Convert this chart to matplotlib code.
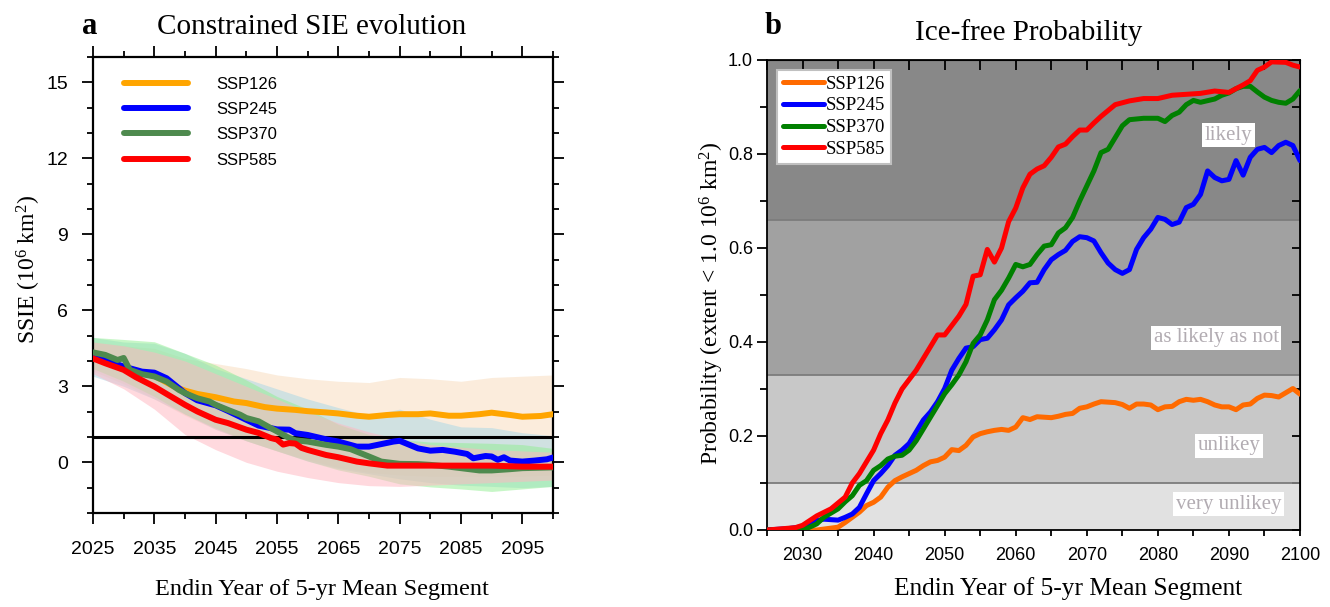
import matplotlib
matplotlib.use("Agg")
import matplotlib.pyplot as plt
from matplotlib.ticker import MultipleLocator, FixedLocator

plt.rcParams['mathtext.fontset'] = 'custom'
plt.rcParams['mathtext.rm'] = 'Liberation Serif'
plt.rcParams['mathtext.it'] = 'Liberation Serif:italic'

SERIF = 'Liberation Serif'
SANS = 'Liberation Sans'

scenarios = ['SSP126', 'SSP245', 'SSP370', 'SSP585']

# ---------------- Panel a data: constrained SIE (10^6 km^2) ----------------
a_years_126 = [2025, 2027, 2030, 2033, 2035, 2038, 2040, 2042, 2045, 2048, 2050, 2053, 2055, 2058, 2060,
               2063, 2065, 2068, 2070, 2073, 2075, 2078, 2080, 2083, 2085, 2088, 2090, 2093, 2095, 2098, 2100]
a_vals_126 = [4.15, 3.95, 3.75, 3.55, 3.42, 3.02, 2.83, 2.70, 2.57, 2.40, 2.34, 2.18, 2.12, 2.07, 2.02,
              1.97, 1.93, 1.84, 1.80, 1.87, 1.90, 1.90, 1.93, 1.84, 1.84, 1.90, 1.96, 1.87, 1.80, 1.83, 1.90]

a_years_245 = [2025, 2028, 2030, 2033, 2035, 2037, 2040, 2042, 2045, 2047, 2050, 2052, 2054, 2055, 2057, 2058,
               2060, 2063, 2065, 2068, 2070, 2072, 2074, 2075, 2076, 2078, 2080, 2082, 2084, 2086, 2087,
               2089, 2090, 2091, 2092, 2093, 2095, 2097, 2099, 2100]
a_vals_245 = [4.17, 3.95, 3.78, 3.58, 3.54, 3.32, 2.73, 2.45, 2.25, 2.03, 1.68, 1.45, 1.35, 1.30, 1.29, 1.15,
              1.08, 0.91, 0.82, 0.62, 0.62, 0.72, 0.82, 0.85, 0.75, 0.55, 0.46, 0.49, 0.42, 0.33, 0.16,
              0.25, 0.23, 0.10, 0.20, 0.07, 0.03, 0.07, 0.12, 0.19]

a_years_370 = [2025, 2027, 2029, 2030, 2031, 2033, 2035, 2037, 2039, 2040, 2042, 2044, 2045, 2047, 2049, 2050,
               2052, 2054, 2055, 2056, 2057, 2058, 2060, 2063, 2065, 2067, 2070, 2072, 2075, 2078, 2080,
               2083, 2085, 2088, 2090, 2093, 2095, 2100]
a_vals_370 = [4.34, 4.24, 4.04, 4.12, 3.65, 3.48, 3.39, 3.19, 2.86, 2.73, 2.53, 2.40, 2.27, 2.07, 1.88, 1.75,
              1.62, 1.35, 1.22, 1.09, 0.96, 0.87, 0.82, 0.69, 0.62, 0.52, 0.23, 0.03, -0.06, -0.07, -0.10,
              -0.17, -0.23, -0.32, -0.32, -0.27, -0.23, -0.20]

a_years_585 = [2025, 2027, 2030, 2032, 2035, 2037, 2040, 2042, 2045, 2047, 2050, 2052, 2054, 2055, 2056, 2057,
               2058, 2059, 2060, 2063, 2065, 2068, 2070, 2073, 2075, 2080, 2085, 2090, 2095, 2100]
a_vals_585 = [4.10, 3.91, 3.65, 3.36, 2.99, 2.70, 2.27, 2.01, 1.68, 1.55, 1.29, 1.16, 0.96, 0.90, 0.70, 0.76,
              0.74, 0.57, 0.49, 0.29, 0.20, 0.03, -0.04, -0.13, -0.13, -0.13, -0.13, -0.13, -0.17, -0.17]

# uncertainty envelopes (every 5 years)
band_years = [2025, 2030, 2035, 2040, 2045, 2050, 2055, 2060, 2065, 2070, 2075, 2080, 2085, 2090, 2095, 2100]
band_hi_126 = [4.75, 4.6, 4.5, 4.1, 3.9, 3.7, 3.45, 3.3, 3.2, 3.15, 3.35, 3.3, 3.2, 3.35, 3.4, 3.45]
band_lo_126 = [3.6, 3.1, 2.5, 1.85, 1.3, 0.85, 0.45, 0.1, -0.2, -0.4, -0.5, -0.55, -0.55, -0.55, -0.55, -0.5]
band_hi_245 = [4.93, 4.75, 4.7, 4.3, 3.7, 3.3, 2.9, 2.5, 2.16, 1.85, 2.1, 1.7, 1.4, 1.37, 1.17, 1.05]
band_lo_245 = [3.4, 3.0, 2.5, 1.9, 1.3, 0.85, 0.45, 0.05, -0.25, -0.45, -0.65, -0.8, -0.9, -0.95, -1.0, -0.95]
band_hi_370 = [4.93, 4.85, 4.76, 4.3, 3.84, 3.25, 2.6, 2.1, 1.5, 1.1, 0.9, 0.8, 0.78, 0.75, 0.7, 0.55]
band_lo_370 = [3.7, 3.2, 2.6, 1.9, 1.35, 0.85, 0.45, 0.05, -0.3, -0.55, -0.85, -0.97, -1.05, -1.15, -1.05, -0.95]
band_hi_585 = [4.75, 4.6, 4.35, 4.0, 3.5, 3.0, 2.5, 2.0, 1.55, 1.2, 0.9, 0.7, 0.6, 0.5, 0.45, 0.4]
band_lo_585 = [3.5, 2.9, 2.1, 1.1, 0.5, 0.0, -0.35, -0.6, -0.8, -0.92, -0.95, -0.9, -0.85, -0.8, -0.75, -0.7]

ice_free_threshold = 1.0

# ---------------- Panel b data: ice-free probability ----------------
b_years_126 = [2025, 2032, 2033, 2035, 2036, 2037, 2038, 2039, 2040, 2041, 2042, 2043, 2044, 2045, 2046, 2047,
               2048, 2049, 2050, 2051, 2052, 2053, 2054, 2055, 2056, 2057, 2058, 2059, 2060, 2061, 2062,
               2063, 2065, 2066, 2067, 2068, 2069, 2070, 2071, 2072, 2074, 2075, 2076, 2077, 2078, 2079,
               2080, 2081, 2082, 2083, 2084, 2085, 2086, 2087, 2088, 2089, 2090, 2091, 2092, 2093, 2094,
               2095, 2096, 2097, 2098, 2099, 2100]
b_vals_126 = [0.0, 0.0, 0.002, 0.006, 0.016, 0.027, 0.038, 0.052, 0.059, 0.07, 0.091, 0.105, 0.113, 0.12, 0.127,
              0.137, 0.145, 0.148, 0.155, 0.171, 0.169, 0.18, 0.198, 0.205, 0.209, 0.212, 0.214, 0.212, 0.219,
              0.239, 0.235, 0.241, 0.239, 0.242, 0.246, 0.248, 0.259, 0.262, 0.268, 0.273, 0.271, 0.267,
              0.259, 0.268, 0.268, 0.266, 0.256, 0.262, 0.263, 0.273, 0.278, 0.276, 0.278, 0.273, 0.266,
              0.262, 0.262, 0.256, 0.266, 0.268, 0.28, 0.287, 0.286, 0.283, 0.292, 0.301, 0.289]

b_years_245 = [2025, 2028, 2030, 2031, 2032, 2033, 2035, 2036, 2037, 2038, 2039, 2040, 2041, 2042, 2043, 2044,
               2045, 2046, 2047, 2048, 2049, 2050, 2051, 2052, 2053, 2054, 2055, 2056, 2057, 2058, 2059,
               2060, 2061, 2062, 2063, 2064, 2065, 2066, 2067, 2068, 2069, 2070, 2071, 2072, 2073, 2074,
               2075, 2076, 2077, 2078, 2079, 2080, 2081, 2082, 2083, 2084, 2085, 2086, 2087, 2088, 2089,
               2090, 2091, 2092, 2093, 2094, 2095, 2096, 2097, 2098, 2099, 2100]
b_vals_245 = [0.0, 0.003, 0.007, 0.013, 0.02, 0.023, 0.021, 0.027, 0.034, 0.048, 0.077, 0.105, 0.12, 0.137,
              0.159, 0.17, 0.184, 0.209, 0.234, 0.251, 0.273, 0.301, 0.34, 0.365, 0.387, 0.39, 0.405, 0.408,
              0.426, 0.447, 0.479, 0.494, 0.508, 0.526, 0.527, 0.554, 0.575, 0.586, 0.595, 0.614, 0.624,
              0.622, 0.615, 0.59, 0.568, 0.554, 0.546, 0.554, 0.597, 0.622, 0.64, 0.665, 0.661, 0.65, 0.655,
              0.686, 0.693, 0.714, 0.764, 0.75, 0.743, 0.746, 0.786, 0.755, 0.793, 0.81, 0.814, 0.803,
              0.818, 0.825, 0.818, 0.786]

b_years_370 = [2025, 2030, 2031, 2032, 2033, 2035, 2036, 2037, 2038, 2039, 2040, 2041, 2042, 2043, 2044, 2045,
               2046, 2047, 2048, 2049, 2050, 2051, 2052, 2053, 2054, 2055, 2056, 2057, 2058, 2059, 2060,
               2061, 2062, 2063, 2064, 2065, 2066, 2067, 2068, 2069, 2070, 2071, 2072, 2073, 2074, 2075,
               2076, 2078, 2080, 2081, 2082, 2083, 2084, 2085, 2086, 2088, 2089, 2090, 2091, 2092, 2093,
               2094, 2095, 2096, 2097, 2098, 2099, 2100]
b_vals_370 = [0.0, 0.0, 0.006, 0.013, 0.027, 0.045, 0.06, 0.073, 0.095, 0.105, 0.127, 0.137, 0.151, 0.157,
              0.159, 0.17, 0.19, 0.215, 0.24, 0.265, 0.29, 0.309, 0.33, 0.358, 0.397, 0.415, 0.447, 0.49,
              0.51, 0.536, 0.565, 0.56, 0.565, 0.586, 0.604, 0.607, 0.632, 0.643, 0.665, 0.70, 0.732, 0.764,
              0.803, 0.81, 0.835, 0.86, 0.873, 0.876, 0.876, 0.869, 0.882, 0.889, 0.905, 0.914, 0.91, 0.917,
              0.925, 0.93, 0.939, 0.944, 0.944, 0.932, 0.921, 0.914, 0.91, 0.908, 0.917, 0.935]

b_years_585 = [2025, 2029, 2030, 2032, 2034, 2036, 2037, 2038, 2040, 2041, 2042, 2043, 2044, 2046, 2048, 2049,
               2050, 2052, 2053, 2054, 2055, 2056, 2057, 2058, 2059, 2060, 2061, 2062, 2063, 2064, 2065,
               2066, 2067, 2068, 2069, 2070, 2071, 2072, 2074, 2076, 2078, 2080, 2082, 2084, 2086, 2088,
               2090, 2092, 2093, 2094, 2095, 2096, 2098, 2099, 2100]
b_vals_585 = [0.0, 0.005, 0.01, 0.03, 0.045, 0.07, 0.1, 0.12, 0.17, 0.205, 0.234, 0.27, 0.3, 0.34, 0.39, 0.415,
              0.415, 0.455, 0.48, 0.54, 0.543, 0.597, 0.57, 0.6, 0.656, 0.685, 0.728, 0.757, 0.768, 0.775,
              0.793, 0.815, 0.821, 0.837, 0.851, 0.851, 0.866, 0.88, 0.905, 0.913, 0.918, 0.918, 0.925,
              0.927, 0.929, 0.934, 0.931, 0.947, 0.956, 0.978, 0.985, 0.996, 0.995, 0.989, 0.985]

# likelihood categories (probability boundaries)
prob_bounds = [0.0, 0.1, 0.33, 0.66, 1.0]
prob_labels = ['very unlikey', 'unlikey', 'as likely as not', 'likely']

# ---------------- styles ----------------
a_line_colors = ['#ffa500', '#0000ff', '#4e8a4e', '#ff0000']
a_band_colors = ['#f2c38e', '#add8e6', '#90ee90', '#ffb6c1']
a_band_alpha = [0.30, 0.55, 0.50, 0.52]
b_line_colors = ['#ff6a00', '#0000ff', '#008000', '#ff0000']
band_fill = ['#e1e1e1', '#c8c8c8', '#a1a1a1', '#888888']

W, H = 1330, 607
fig = plt.figure(figsize=(W / 100, H / 100), dpi=100)

def fx(px):
    return px / W

def fy(py):
    return 1 - py / H

# ================= Panel a =================
axa = fig.add_axes([fx(93), fy(513), fx(553) - fx(93), fy(57) - fy(513)])
a_years = [a_years_126, a_years_245, a_years_370, a_years_585]
a_vals = [a_vals_126, a_vals_245, a_vals_370, a_vals_585]
band_hi = [band_hi_126, band_hi_245, band_hi_370, band_hi_585]
band_lo = [band_lo_126, band_lo_245, band_lo_370, band_lo_585]

for i in range(4):
    axa.fill_between(band_years, band_lo[i], band_hi[i], color=a_band_colors[i],
                     alpha=a_band_alpha[i], lw=0, zorder=1)
axa.axhline(ice_free_threshold, color='black', lw=2.2, zorder=3)
handles_a = []
for i in range(4):
    h, = axa.plot(a_years[i], a_vals[i], color=a_line_colors[i], lw=4.3, zorder=4,
                  solid_capstyle='round', label=scenarios[i])
    handles_a.append(h)

axa.set_xlim(2025, 2100)
axa.set_ylim(-2, 16)
axa.xaxis.set_major_locator(FixedLocator(list(range(2025, 2100, 10))))
axa.xaxis.set_minor_locator(MultipleLocator(5))
axa.yaxis.set_major_locator(FixedLocator([0, 3, 6, 9, 12, 15]))
axa.yaxis.set_minor_locator(MultipleLocator(1))
axa.tick_params(which='both', direction='out', top=True, right=True, width=1.3)
axa.tick_params(which='major', length=8, labelsize=14, pad=6)
axa.tick_params(which='minor', length=4)
axa.tick_params(axis='y', which='major', pad=10)
axa.tick_params(axis='x', which='major', pad=12)
for lab in axa.get_xticklabels() + axa.get_yticklabels():
    lab.set_fontfamily(SANS)
for sp in axa.spines.values():
    sp.set_linewidth(1.6)

leg_a = axa.legend(handles=handles_a, loc='upper left', bbox_to_anchor=(0.068, 0.957),
                   frameon=False, borderaxespad=0, borderpad=0, handlelength=3.8,
                   handletextpad=1.75, labelspacing=0.62, prop={'family': SANS, 'size': 12})

fig.text(fx(90), fy(26), 'a', fontfamily=SERIF, fontweight='bold', fontsize=22, ha='center', va='center')
fig.text(fx(312), fy(27), 'Constrained SIE evolution', fontfamily=SERIF, fontsize=21, ha='center', va='center')
fig.text(fx(322), fy(589), 'Endin Year of 5-yr Mean Segment', fontfamily=SERIF, fontsize=17.5,
         ha='center', va='center')
fig.text(fx(29), fy(270), 'SSIE (10$^6$ km$^2$)', fontfamily=SERIF, fontsize=17,
         ha='center', va='center', rotation=90)

# ================= Panel b =================
axb = fig.add_axes([fx(767), fy(530), fx(1300) - fx(767), fy(60) - fy(530)])
for i in range(4):
    axb.axhspan(prob_bounds[i], prob_bounds[i + 1], color=band_fill[i], lw=0, zorder=0)
for b in prob_bounds[1:-1]:
    axb.axhline(b, color='#7c7c7c', lw=1.3, zorder=1)

b_years = [b_years_126, b_years_245, b_years_370, b_years_585]
b_vals = [b_vals_126, b_vals_245, b_vals_370, b_vals_585]
handles_b = []
for i in range(4):
    h, = axb.plot(b_years[i], b_vals[i], color=b_line_colors[i], lw=3.6, zorder=3,
                  solid_capstyle='round', label=scenarios[i])
    handles_b.append(h)

label_pos = [(2090, 0.055), (2090, 0.179), (2088.2, 0.409), (2090, 0.84)]
for (xx, yy), txt in zip(label_pos, prob_labels):
    axb.text(xx, yy, txt, fontfamily=SERIF, fontsize=15, color='#b2acb2', ha='center', va='center',
             zorder=4, bbox=dict(facecolor='white', edgecolor='none', pad=2.0))

axb.set_xlim(2025, 2100)
axb.set_ylim(0, 1)
axb.xaxis.set_major_locator(FixedLocator(list(range(2030, 2101, 10))))
axb.xaxis.set_minor_locator(MultipleLocator(5))
axb.yaxis.set_major_locator(FixedLocator([0, 0.2, 0.4, 0.6, 0.8, 1.0]))
axb.yaxis.set_minor_locator(MultipleLocator(0.1))
axb.tick_params(which='both', direction='out', top=False, right=False, width=1.3)
axb.tick_params(axis='y', which='major', length=7, labelsize=13, pad=3)
axb.tick_params(axis='y', which='minor', length=5)
axb.tick_params(axis='x', which='major', length=4, labelsize=13, pad=8)
axb.tick_params(axis='x', which='minor', length=4)
axb.yaxis.set_major_formatter(plt.FuncFormatter(lambda v, p: f'{v:.1f}'))
for lab in axb.get_xticklabels() + axb.get_yticklabels():
    lab.set_fontfamily(SANS)
for sp in axb.spines.values():
    sp.set_linewidth(1.3)

top = axb.secondary_xaxis('top')
top.xaxis.set_major_locator(MultipleLocator(5))
top.tick_params(direction='in', length=7, width=1.3, labeltop=False)
right = axb.secondary_yaxis('right')
right.yaxis.set_major_locator(MultipleLocator(0.1))
right.tick_params(direction='in', length=6, width=1.3, labelright=False)

leg_b = axb.legend(handles=handles_b, loc='upper left', bbox_to_anchor=(0.019, 0.979),
                   borderaxespad=0, borderpad=0.3, handlelength=2.2, handletextpad=0.1,
                   labelspacing=0.25, fancybox=False, framealpha=1, edgecolor='#c0c0c0',
                   prop={'family': SERIF, 'size': 13.5})
leg_b.get_frame().set_linewidth(1.5)
leg_b.set_zorder(5)

fig.text(fx(773), fy(26), 'b', fontfamily=SERIF, fontweight='bold', fontsize=22, ha='center', va='center')
fig.text(fx(1029), fy(33), 'Ice-free Probability', fontfamily=SERIF, fontsize=21, ha='center', va='center')
fig.text(fx(1068), fy(589), 'Endin Year of 5-yr Mean Segment', fontfamily=SERIF, fontsize=18.3,
         ha='center', va='center')
fig.text(fx(712), fy(303), 'Probability (extent < 1.0 10$^6$ km$^2$)', fontfamily=SERIF, fontsize=17,
         ha='center', va='center', rotation=90)

fig.savefig('out.png', dpi=100)
